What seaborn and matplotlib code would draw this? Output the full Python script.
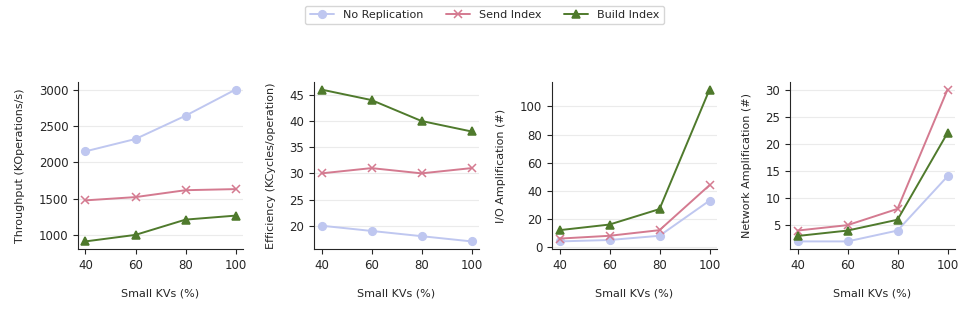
import pandas as pd
import numpy as np
import seaborn as sns
import matplotlib.pyplot as plt
from matplotlib.ticker import MultipleLocator

sns.set_style("ticks")
plt.rcParams['font.family'] = ['DejaVu Sans']
plt.rcParams['font.size'] = 8

small_kvs = [40, 60, 80, 100]
series = ['No Replication', 'Send Index', 'Build Index']
colors = ['#bfc7f0', '#d47a90', '#4f7a2c']
markers = ['o', 'x', '^']

throughput = {'No Replication': [2150, 2320, 2640, 3000],
              'Send Index': [1475, 1520, 1615, 1630],
              'Build Index': [910, 1000, 1210, 1265]}
efficiency = {'No Replication': [20, 19, 18, 17],
              'Send Index': [30, 31, 30, 31],
              'Build Index': [46, 44, 40, 38]}
io_amp = {'No Replication': [4, 5, 8, 33],
          'Send Index': [6, 8, 12, 44],
          'Build Index': [12, 16, 27, 112]}
net_amp = {'No Replication': [2, 2, 4, 14],
           'Send Index': [4, 5, 8, 30],
           'Build Index': [3, 4, 6, 22]}

panels = [(throughput, 'Throughput (KOperations/s)', 500),
          (efficiency, 'Efficiency (KCycles/operation)', 5),
          (io_amp, 'I/O Amplification (#)', 20),
          (net_amp, 'Network Amplification (#)', 5)]

fig = plt.figure(figsize=(9.69, 3.23), dpi=100)
lefts = [78, 314, 552, 790]
axes = []
for i, (data, ylabel, step) in enumerate(panels):
    ax = fig.add_axes([lefts[i] / 969, 1 - 249 / 323, 165 / 969, 167 / 323])
    rows = []
    for s in series:
        for x, y in zip(small_kvs, data[s]):
            rows.append({'x': x, 'y': y, 'series': s})
    df = pd.DataFrame(rows)
    for s, c, m in zip(series, colors, markers):
        sub = df[df['series'] == s]
        sns.lineplot(x='x', y='y', data=sub, ax=ax, color=c, marker=m,
                     markersize=5.5, markeredgecolor=c, markeredgewidth=1.1,
                     linewidth=1.4, label=s, legend=False)
    ax.set_xticks(small_kvs)
    ax.yaxis.set_major_locator(MultipleLocator(step))
    ax.yaxis.grid(True, color='#ebebeb', linewidth=0.8)
    ax.set_axisbelow(True)
    ax.tick_params(labelsize=8.5)
    ax.set_xlabel('Small KVs (%)', labelpad=12)
    ax.set_ylabel(ylabel, labelpad=10)
    sns.despine(ax=ax)
    axes.append(ax)

handles, labels = axes[0].get_legend_handles_labels()
fig.legend(handles, labels, loc='upper center', ncol=3, bbox_to_anchor=(0.5, 1.0),
           frameon=True, fontsize=8, handlelength=2.2, columnspacing=2.0)

fig.savefig('out.png', dpi=100)
